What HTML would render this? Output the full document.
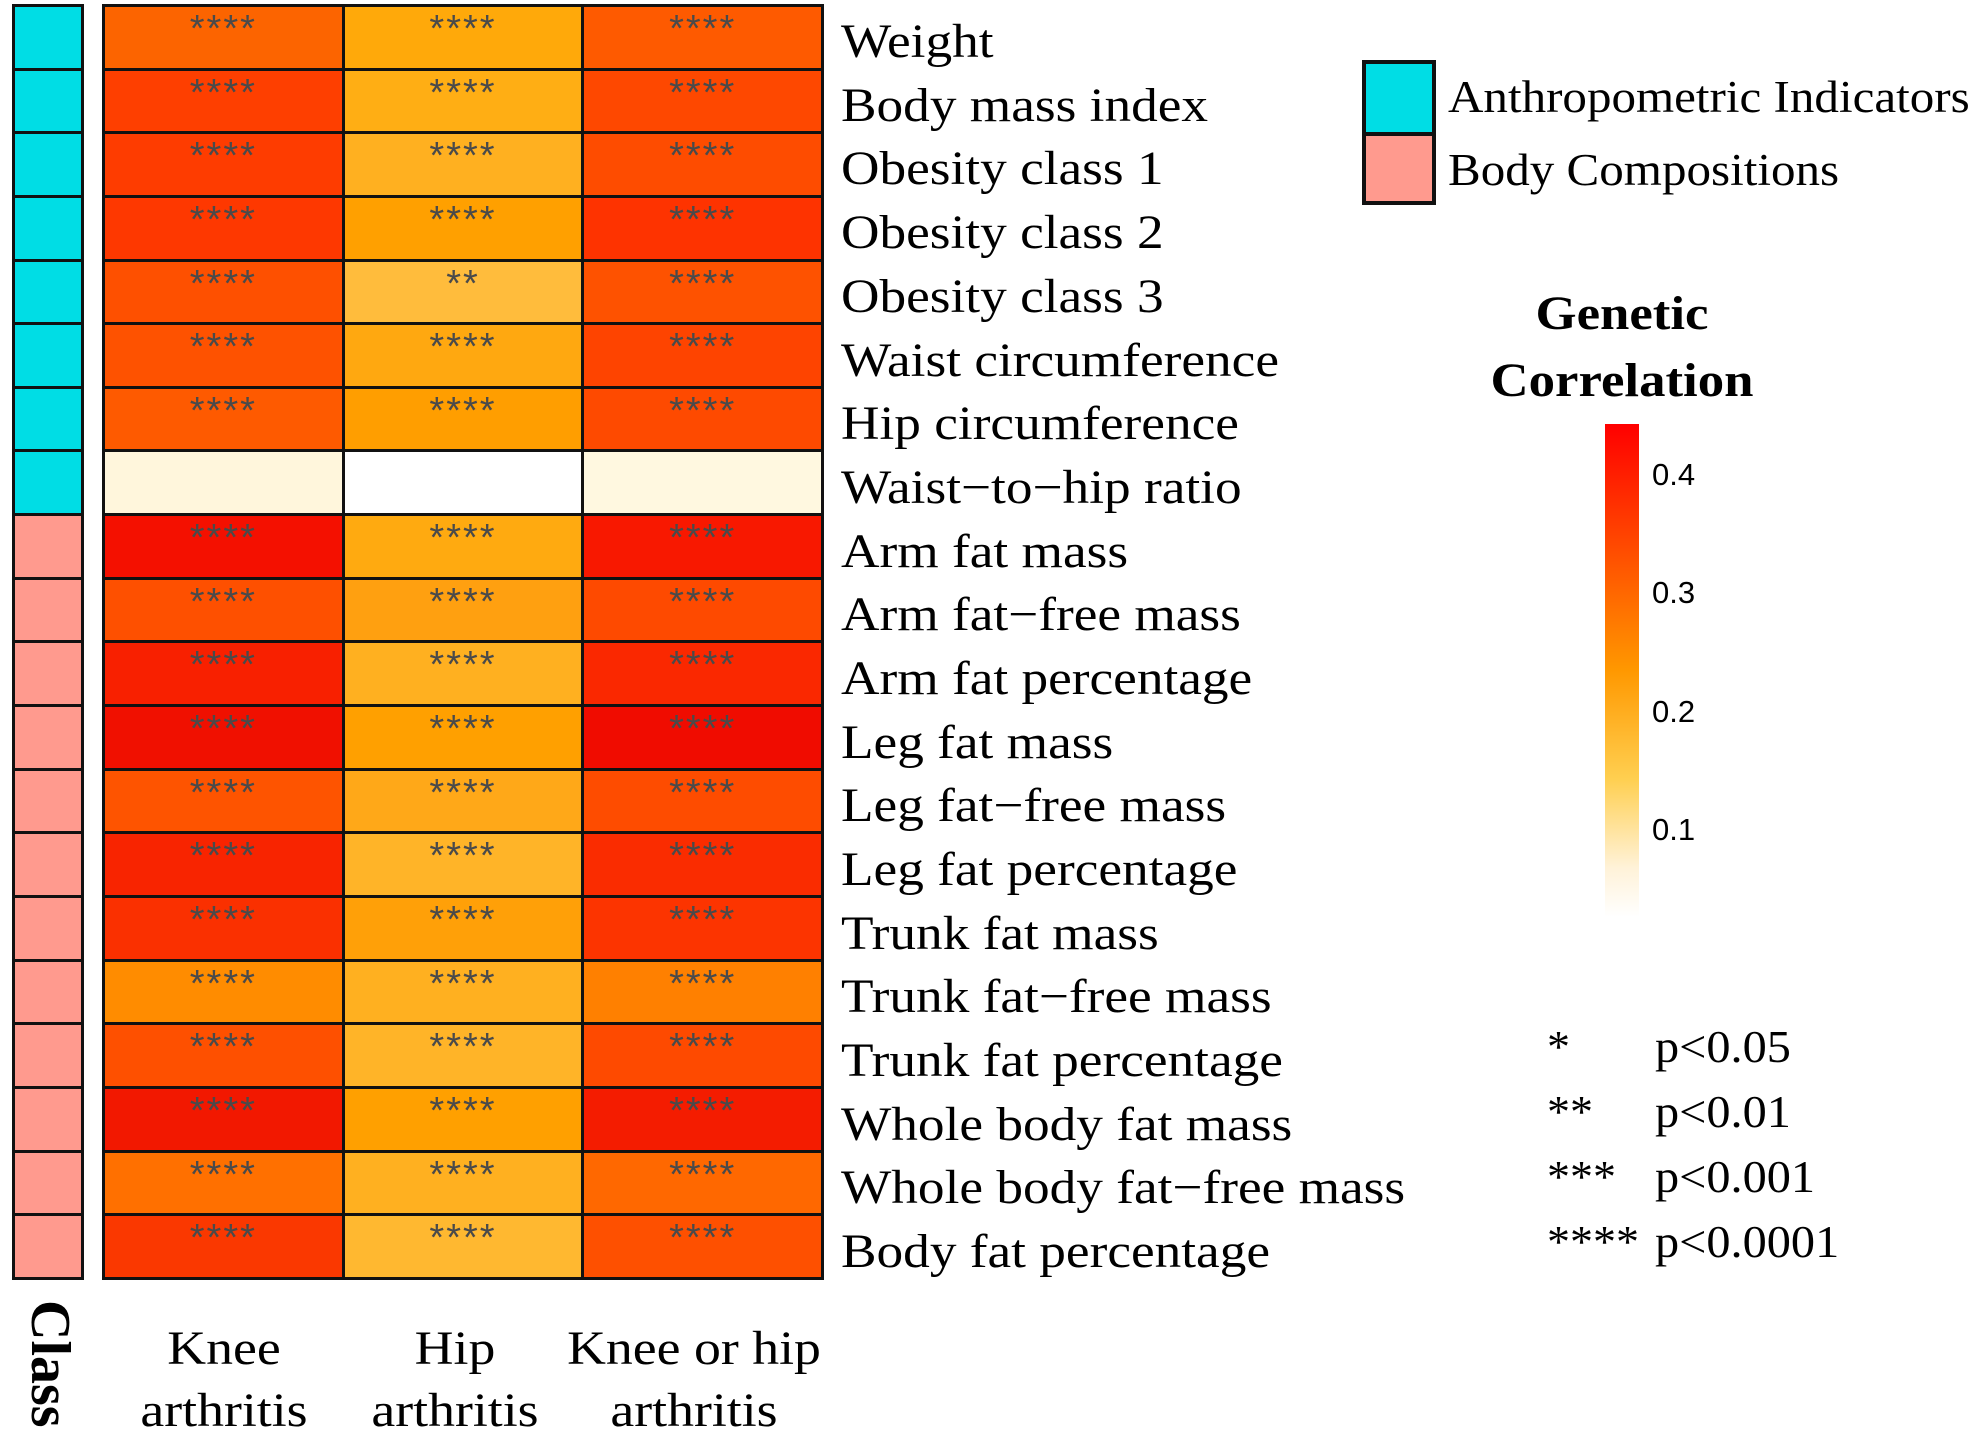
<!DOCTYPE html>
<html><head><meta charset="utf-8"><style>
body{margin:0;width:1969px;height:1448px;background:#fff;position:relative;overflow:hidden;font-family:"Liberation Serif",serif;}
.a{position:absolute;}
table{border-collapse:collapse;position:absolute;}
#hm{left:102px;top:4px;width:722px;height:1276px;}
#hm td{border:3.5px solid #111;height:60px;text-align:center;vertical-align:top;padding:0;font-family:"Liberation Sans",sans-serif;font-size:38px;color:#4a4a4a;line-height:44px;letter-spacing:2px;}
#cl{left:12px;top:4px;width:72px;height:1276px;}
#cl td{border:3.5px solid #111;height:60px;padding:0;}
.c td{background:#00dde5;} .p td{background:#ff9a8e;}
.lab{position:absolute;left:841px;font-size:48px;line-height:50px;white-space:nowrap;transform-origin:0 50%;transform:scaleX(1.11);}
.t{position:absolute;font-size:48px;line-height:62px;text-align:center;white-space:nowrap;transform:scaleX(1.12);}
</style></head><body>
<table id="cl">
<tr class="c"><td></td></tr><tr class="c"><td></td></tr><tr class="c"><td></td></tr><tr class="c"><td></td></tr><tr class="c"><td></td></tr><tr class="c"><td></td></tr><tr class="c"><td></td></tr><tr class="c"><td></td></tr>
<tr class="p"><td></td></tr><tr class="p"><td></td></tr><tr class="p"><td></td></tr><tr class="p"><td></td></tr><tr class="p"><td></td></tr><tr class="p"><td></td></tr><tr class="p"><td></td></tr><tr class="p"><td></td></tr><tr class="p"><td></td></tr><tr class="p"><td></td></tr><tr class="p"><td></td></tr><tr class="p"><td></td></tr>
</table>
<table id="hm">
<tr><td style="background:#fc6400">****</td><td style="background:#ffa90a">****</td><td style="background:#fe5a00">****</td></tr>
<tr><td style="background:#fe3f00">****</td><td style="background:#ffae14">****</td><td style="background:#fe4800">****</td></tr>
<tr><td style="background:#fe3c00">****</td><td style="background:#ffb020">****</td><td style="background:#fe4c00">****</td></tr>
<tr><td style="background:#fe3800">****</td><td style="background:#ffa000">****</td><td style="background:#fe3300">****</td></tr>
<tr><td style="background:#fe5000">****</td><td style="background:#ffbc3c">**</td><td style="background:#fe5200">****</td></tr>
<tr><td style="background:#fe5200">****</td><td style="background:#ffa810">****</td><td style="background:#fe4400">****</td></tr>
<tr><td style="background:#fe5a00">****</td><td style="background:#ff9e00">****</td><td style="background:#fe4a00">****</td></tr>
<tr><td style="background:#fff6dc"></td><td style="background:#ffffff"></td><td style="background:#fff8e0"></td></tr>
<tr><td style="background:#f41000">****</td><td style="background:#ffaa10">****</td><td style="background:#f81800">****</td></tr>
<tr><td style="background:#fe5000">****</td><td style="background:#ffa010">****</td><td style="background:#fe4a00">****</td></tr>
<tr><td style="background:#f82000">****</td><td style="background:#ffb020">****</td><td style="background:#fa2800">****</td></tr>
<tr><td style="background:#f01000">****</td><td style="background:#ffa000">****</td><td style="background:#f00c00">****</td></tr>
<tr><td style="background:#fe5400">****</td><td style="background:#ffa818">****</td><td style="background:#fe4c00">****</td></tr>
<tr><td style="background:#f82400">****</td><td style="background:#ffb428">****</td><td style="background:#fa2c00">****</td></tr>
<tr><td style="background:#fa3000">****</td><td style="background:#ffa008">****</td><td style="background:#fc3400">****</td></tr>
<tr><td style="background:#ff8c00">****</td><td style="background:#ffb020">****</td><td style="background:#ff8000">****</td></tr>
<tr><td style="background:#fe5000">****</td><td style="background:#ffb428">****</td><td style="background:#fe4a00">****</td></tr>
<tr><td style="background:#f21800">****</td><td style="background:#ffa000">****</td><td style="background:#f41c00">****</td></tr>
<tr><td style="background:#ff7000">****</td><td style="background:#ffb020">****</td><td style="background:#ff6800">****</td></tr>
<tr><td style="background:#fa3800">****</td><td style="background:#ffb830">****</td><td style="background:#fe5000">****</td></tr>
</table>

<div class="lab" style="top:17px">Weight</div>
<div class="lab" style="top:81px">Body mass index</div>
<div class="lab" style="top:144px">Obesity class 1</div>
<div class="lab" style="top:208px">Obesity class 2</div>
<div class="lab" style="top:272px">Obesity class 3</div>
<div class="lab" style="top:336px">Waist circumference</div>
<div class="lab" style="top:399px">Hip circumference</div>
<div class="lab" style="top:463px">Waist−to−hip ratio</div>
<div class="lab" style="top:527px">Arm fat mass</div>
<div class="lab" style="top:590px">Arm fat−free mass</div>
<div class="lab" style="top:654px">Arm fat percentage</div>
<div class="lab" style="top:718px">Leg fat mass</div>
<div class="lab" style="top:781px">Leg fat−free mass</div>
<div class="lab" style="top:845px">Leg fat percentage</div>
<div class="lab" style="top:909px">Trunk fat mass</div>
<div class="lab" style="top:972px">Trunk fat−free mass</div>
<div class="lab" style="top:1036px">Trunk fat percentage</div>
<div class="lab" style="top:1100px">Whole body fat mass</div>
<div class="lab" style="top:1163px">Whole body fat−free mass</div>
<div class="lab" style="top:1227px">Body fat percentage</div>

<div class="t" style="left:124px;width:200px;top:1318px">Knee<br>arthritis</div>
<div class="t" style="left:355px;width:200px;top:1318px">Hip<br>arthritis</div>
<div class="t" style="left:564px;width:260px;top:1318px">Knee or hip<br>arthritis</div>
<div class="a" style="left:48px;top:1300px;transform-origin:0 0;transform:rotate(90deg);font-weight:bold;font-size:56px;line-height:60px;margin-left:32px;white-space:nowrap">Class</div>

<div class="a" style="left:1362px;top:60px;width:66px;height:68px;background:#00dde5;border:4px solid #111;border-bottom:2px solid #111"></div>
<div class="a" style="left:1362px;top:134px;width:66px;height:65px;background:#ff9a8e;border:4px solid #111;border-top:2px solid #111"></div>
<div class="a" style="left:1448px;top:72px;font-size:45px;line-height:50px;white-space:nowrap;transform-origin:0 50%;transform:scaleX(1.09)">Anthropometric Indicators</div>
<div class="a" style="left:1448px;top:145px;font-size:45px;line-height:50px;white-space:nowrap;transform-origin:0 50%;transform:scaleX(1.09)">Body Compositions</div>

<div class="a" style="left:1422px;top:280px;width:400px;text-align:center;font-weight:bold;font-size:48px;line-height:67px;transform:scaleX(1.1)">Genetic<br>Correlation</div>
<div class="a" style="left:1605px;top:424px;width:34px;height:493px;background:linear-gradient(to bottom,#ff0000 0%,#ff4a00 25%,#ff9800 50%,#ffcf50 72%,#fff2d8 90%,#ffffff 100%)"></div>
<div class="a" style="left:1652px;top:455px;font-family:'Liberation Sans',sans-serif;font-size:31px;line-height:40px">0.4</div>
<div class="a" style="left:1652px;top:573px;font-family:'Liberation Sans',sans-serif;font-size:31px;line-height:40px">0.3</div>
<div class="a" style="left:1652px;top:692px;font-family:'Liberation Sans',sans-serif;font-size:31px;line-height:40px">0.2</div>
<div class="a" style="left:1652px;top:810px;font-family:'Liberation Sans',sans-serif;font-size:31px;line-height:40px">0.1</div>

<div class="a" style="left:1547px;top:1014px;font-size:46px;line-height:65px;white-space:pre">*<br>**<br>***<br>****</div>
<div class="a" style="left:1655px;top:1014px;font-size:46px;line-height:65px;white-space:pre;transform-origin:0 0;transform:scaleX(1.05)">p&lt;0.05<br>p&lt;0.01<br>p&lt;0.001<br>p&lt;0.0001</div>
</body></html>
